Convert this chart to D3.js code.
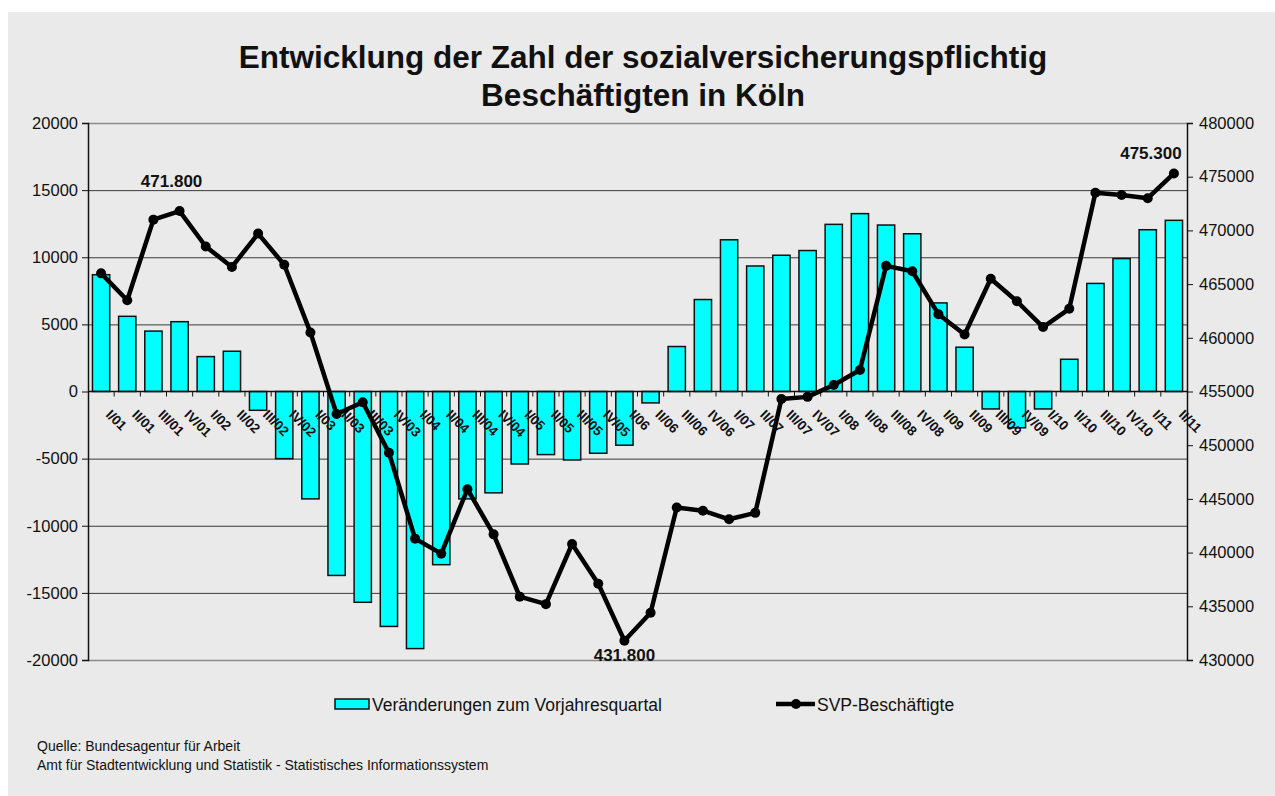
<!DOCTYPE html>
<html>
<head>
<meta charset="utf-8">
<script src="https://cdn.jsdelivr.net/npm/d3@7"></script>
<style>
 body { margin: 0; background: #fff; }
 text { font-family: "Liberation Sans", Arial, sans-serif; }
</style>
</head>
<body>
<script>
var width = 1275, height = 796;

// quarters I/01 .. II/11
var quarters = ["I/01","II/01","III/01","IV/01","I/02","II/02","III/02","IV/02",
 "I/03","II/03","III/03","IV/03","I/04","II/04","III/04","IV/04",
 "I/05","II/05","III/05","IV/05","I/06","II/06","III/06","IV/06",
 "I/07","II/07","III/07","IV/07","I/08","II/08","III/08","IV/08",
 "I/09","II/09","III/09","IV/09","I/10","II/10","III/10","IV/10",
 "I/11","II/11"];

// change to same quarter of previous year
var changes = [8700, 5600, 4500, 5200, 2600, 3000, -1400, -5000,
 -8000, -13700, -15700, -17500, -19150, -12900, -8000, -7550,
 -5400, -4700, -5100, -4600, -4000, -850, 3350, 6850,
 11300, 9350, 10150, 10500, 12450, 13250, 12400, 11750,
 6600, 3300, -1300, -2700, -1300, 2400, 8050, 9900,
 12050, 12750];

// employees subject to social insurance
var employees = [466000, 463500, 471000, 471800, 468500, 466600, 469700, 466800,
 460500, 452900, 454000, 449300, 441300, 439900, 445900, 441700,
 435900, 435200, 440800, 437100, 431800, 434400, 444200, 443900,
 443100, 443700, 454300, 454500, 455600, 457000, 466700, 466200,
 462200, 460300, 465500, 463400, 461000, 462700, 473500, 473300,
 473000, 475300];

var leftTicks = [-20000, -15000, -10000, -5000, 0, 5000, 10000, 15000, 20000];
var rightTicks = [430000, 435000, 440000, 445000, 450000, 455000, 460000, 465000, 470000, 475000, 480000];

// labelled points: index, text
var pointLabels = [
 {i: 3, text: "471.800", dx: -8, dy: -29},
 {i: 20, text: "431.800", dx: 0, dy: 16},
 {i: 41, text: "475.300", dx: -23, dy: -19}
];

var svg = d3.select('body').append('svg').attr('width', width).attr('height', height);

svg.append('rect').attr('x', 8).attr('y', 12).attr('width', width - 8).attr('height', height - 12)
 .attr('fill', '#eaeaea');

var plotLeft = 88, plotRight = 1187, plotTop = 123, plotBottom = 660;

var x = d3.scaleBand().domain(quarters).range([plotLeft, plotRight]).paddingInner(0.34).paddingOuter(0.17);
var yL = d3.scaleLinear().domain([-20000, 20000]).range([plotBottom, plotTop]);
var yR = d3.scaleLinear().domain([430000, 480000]).range([plotBottom, plotTop]);

// gridlines
svg.append('g').selectAll('line')
 .data(leftTicks.filter(function(d) { return d != 0; }))
 .join('line')
 .attr('x1', plotLeft).attr('x2', plotRight)
 .attr('y1', function(d) { return yL(d) + 0.5; })
 .attr('y2', function(d) { return yL(d) + 0.5; })
 .attr('stroke', function(d) { return Math.abs(d) == 20000 ? '#8a8a8a' : '#3a3a3a'; })
 .attr('stroke-width', function(d) { return Math.abs(d) == 20000 ? 1.5 : 1; });

// bars
svg.append('g').selectAll('rect')
 .data(changes)
 .join('rect')
 .attr('x', function(d, i) { return x(quarters[i]); })
 .attr('width', x.bandwidth())
 .attr('y', function(d) { return yL(Math.max(0, d)); })
 .attr('height', function(d) { return Math.abs(yL(d) - yL(0)); })
 .attr('fill', '#00ffff')
 .attr('stroke', '#111')
 .attr('stroke-width', 1.5);

// category axis at zero
var xAxis = svg.append('g').attr('transform', 'translate(0,' + yL(0) + ')');
xAxis.append('line').attr('x1', plotLeft).attr('x2', plotRight).attr('stroke', '#111').attr('stroke-width', 1.5);
xAxis.selectAll('.tk')
 .data(d3.range(1, quarters.length))
 .join('line')
 .attr('x1', function(i) { return plotLeft + i * x.step(); })
 .attr('x2', function(i) { return plotLeft + i * x.step(); })
 .attr('y1', 0).attr('y2', 5)
 .attr('stroke', '#111');
xAxis.selectAll('text')
 .data(quarters)
 .join('text')
 .attr('transform', function(d) {
   return 'translate(' + (x(d) + x.bandwidth() / 2 + 4) + ',24) rotate(45)';
 })
 .attr('font-size', 13.5)
 .attr('font-weight', 'bold')
 .attr('fill', '#111')
 .text(function(d) { return d; });

// left axis
var axL = svg.append('g').attr('transform', 'translate(' + plotLeft + ',0)')
 .call(d3.axisLeft(yL).tickValues(leftTicks).tickSize(6).tickPadding(4)
   .tickFormat(function(d) { return String(d); }));
axL.select('.domain').attr('stroke', '#111').attr('stroke-width', 1.5);
axL.selectAll('.tick line').attr('stroke', '#111');
axL.selectAll('text').attr('font-size', 16.5).attr('fill', '#111')
 .style('font-family', '"Liberation Sans", Arial, sans-serif');

// right axis
var axR = svg.append('g').attr('transform', 'translate(' + plotRight + ',0)')
 .call(d3.axisRight(yR).tickValues(rightTicks).tickSize(6).tickPadding(6)
   .tickFormat(function(d) { return String(d); }));
axR.select('.domain').attr('stroke', '#111').attr('stroke-width', 1.5);
axR.selectAll('.tick line').attr('stroke', '#111');
axR.selectAll('text').attr('font-size', 16.5).attr('fill', '#111')
 .style('font-family', '"Liberation Sans", Arial, sans-serif');

// line
var line = d3.line()
 .x(function(d, i) { return x(quarters[i]) + x.bandwidth() / 2; })
 .y(function(d) { return yR(d); });

svg.append('path').datum(employees)
 .attr('d', line)
 .attr('fill', 'none')
 .attr('stroke', '#000')
 .attr('stroke-width', 4.5)
 .attr('stroke-linejoin', 'round');

svg.append('g').selectAll('circle')
 .data(employees)
 .join('circle')
 .attr('cx', function(d, i) { return x(quarters[i]) + x.bandwidth() / 2; })
 .attr('cy', function(d) { return yR(d); })
 .attr('r', 5)
 .attr('fill', '#000');

svg.append('g').selectAll('text')
 .data(pointLabels)
 .join('text')
 .attr('x', function(d) { return x(quarters[d.i]) + x.bandwidth() / 2 + d.dx; })
 .attr('y', function(d) { return yR(employees[d.i]) + d.dy; })
 .attr('text-anchor', 'middle')
 .attr('dominant-baseline', 'middle')
 .attr('font-size', 17)
 .attr('font-weight', 'bold')
 .attr('fill', '#111')
 .text(function(d) { return d.text; });

// title
var title = svg.append('text').attr('x', 643).attr('text-anchor', 'middle')
 .attr('font-size', 31.5).attr('font-weight', 'bold').attr('fill', '#111');
title.append('tspan').attr('x', 643).attr('y', 68).text('Entwicklung der Zahl der sozialversicherungspflichtig');
title.append('tspan').attr('x', 643).attr('y', 106).text('Beschäftigten in Köln');

// legend
var lg = svg.append('g');
lg.append('rect').attr('x', 335).attr('y', 699).attr('width', 34).attr('height', 10)
 .attr('fill', '#00ffff').attr('stroke', '#111').attr('stroke-width', 1.5);
lg.append('text').attr('x', 372).attr('y', 711).attr('font-size', 17.5).attr('fill', '#111')
 .text('Veränderungen zum Vorjahresquartal');
lg.append('line').attr('x1', 776).attr('x2', 815).attr('y1', 704).attr('y2', 704)
 .attr('stroke', '#000').attr('stroke-width', 4.5);
lg.append('circle').attr('cx', 796).attr('cy', 704).attr('r', 5).attr('fill', '#000');
lg.append('text').attr('x', 817).attr('y', 711).attr('font-size', 17.5).attr('fill', '#111')
 .text('SVP-Beschäftigte');

// source
svg.append('text').attr('x', 37).attr('y', 751).attr('font-size', 14).attr('fill', '#111')
 .text('Quelle: Bundesagentur für Arbeit');
svg.append('text').attr('x', 37).attr('y', 770).attr('font-size', 14).attr('fill', '#111')
 .text('Amt für Stadtentwicklung und Statistik - Statistisches Informationssystem');
</script>
</body>
</html>
